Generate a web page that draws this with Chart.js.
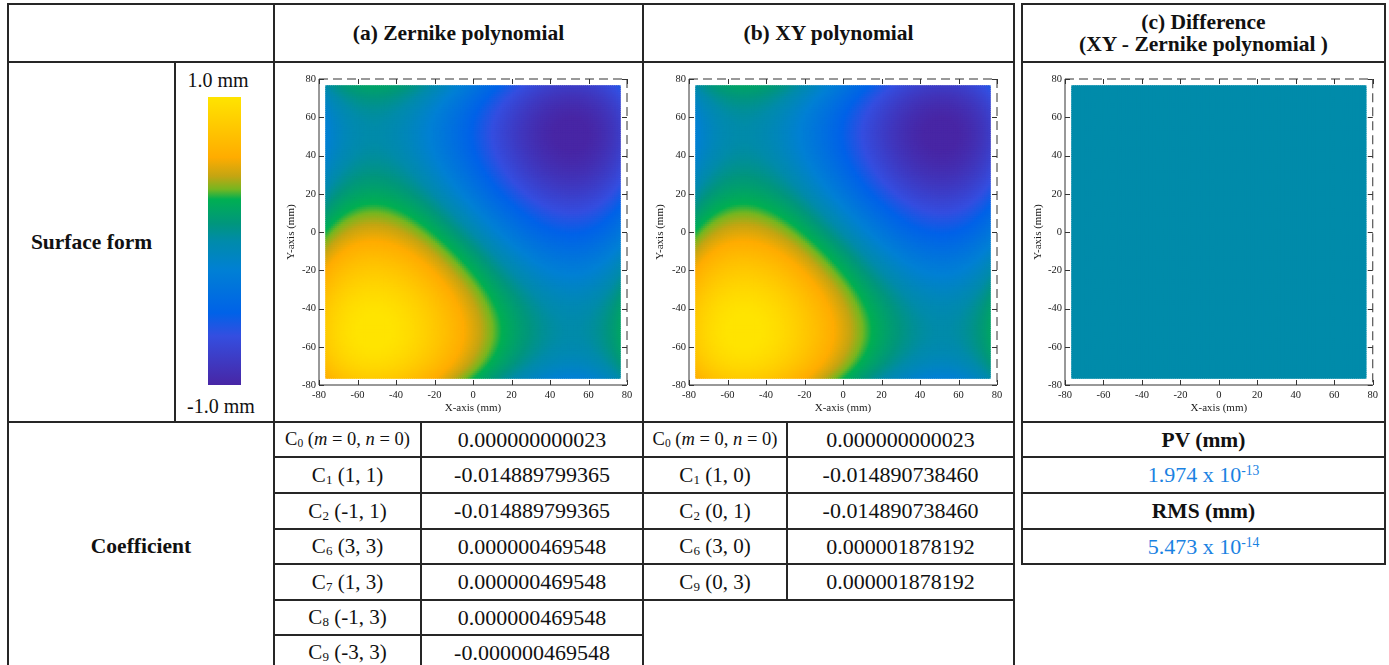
<!DOCTYPE html>
<html>
<head>
<meta charset="utf-8">
<script src="https://cdn.jsdelivr.net/npm/chart.js@4.4.0/dist/chart.umd.min.js"></script>
<style>
  body { margin: 0; background: #fff; }
  #sheet { position: relative; width: 1389px; height: 665px; overflow: hidden;
           font-family: "Liberation Serif", "Times New Roman", serif; color: #111; }
  .ln { position: absolute; background: #262626; }
  .cell { position: absolute; display: flex; align-items: center; justify-content: center;
          text-align: center; white-space: nowrap; }
  .head { font-weight: bold; font-size: 21.5px; line-height: 22px; }
  .val { font-size: 22px; }
  .lab { font-size: 21px; }
  .lab.small { font-size: 18.5px; }
  .unit { font-size: 20px; }
  .blue { color: #1a82e2; font-size: 22px; }
  sub { font-size: 62%; vertical-align: -0.18em; line-height: 0; }
  sup { font-size: 62%; vertical-align: 0.55em; line-height: 0; }
  canvas { position: absolute; }
  #cbar { position: absolute; left: 208px; top: 97px; width: 33px; height: 288px; }
</style>
</head>
<body>
<div id="sheet">
  <div id="cbar"></div>
  <canvas id="zernikeChart" width="362" height="352" style="left:276px;top:66px"></canvas>
  <canvas id="xyChart" width="363" height="352" style="left:645px;top:66px"></canvas>
  <canvas id="diffChart" width="359" height="352" style="left:1023px;top:66px"></canvas>
</div>
<script>
// axis ticks (mm) and sampled aperture
const axisTicks = [-80, -60, -40, -20, 0, 20, 40, 60, 80];
const apertureHalf = 76;
const gridStep = 1;

// Zernike fit: term index, (m, n), coefficient
const zernikeIndex = [0, 1, 2, 6, 7, 8, 9];
const zernikeM = [0, 1, -1, 3, 1, -1, -3];
const zernikeN = [0, 1, 1, 3, 3, 3, 3];
const zernikeCoef = [0.000000000023, -0.014889799365, -0.014889799365,
                     0.000000469548, 0.000000469548, 0.000000469548, -0.000000469548];

// XY polynomial fit: term index, powers of x and y, coefficient
const xyIndex = [0, 1, 2, 6, 9];
const xyPowX = [0, 1, 0, 3, 0];
const xyPowY = [0, 0, 1, 0, 3];
const xyCoef = [0.000000000023, -0.014890738460, -0.014890738460,
                0.000001878192, 0.000001878192];

// residual statistics of the difference map (mm)
const diffPV = 1.974e-13;
const diffRMS = 5.473e-14;

// colour map, value (mm) -> rgb
const cmapValues = [1.0, 0.58, 0.45, 0.36, 0.29, 0.12, 0.0, -0.2, -0.5, -0.66, -1.0];
const cmapColors = [[255, 228, 0], [255, 172, 0], [196, 165, 18], [118, 182, 32], [0, 175, 82],
                    [0, 150, 125], [0, 139, 170], [0, 128, 212], [0, 98, 232], [52, 78, 224], [72, 38, 165]];
const cmapLabels = ['1.0 mm', '-1.0 mm'];

function colorFor(v) {
  v = Math.max(-1, Math.min(1, v));
  for (let i = 0; i < cmapValues.length - 1; i++) {
    const a = cmapValues[i], b = cmapValues[i + 1];
    if (v <= a && v >= b) {
      const t = (a - v) / (a - b);
      const c0 = cmapColors[i], c1 = cmapColors[i + 1];
      const c = c0.map((c, k) => Math.round(c + (c1[k] - c) * t));
      return `rgb(${c[0]},${c[1]},${c[2]})`;
    }
  }
  return 'rgb(0,139,170)';
}

function fact(k) { return k <= 1 ? 1 : k * fact(k - 1); }

function zernike(m, n, x, y) {
  const r = Math.hypot(x, y), th = Math.atan2(y, x), am = Math.abs(m);
  let R = 0;
  for (let s = 0; s <= (n - am) / 2; s++) {
    R += (s % 2 ? -1 : 1) * fact(n - s) /
         (fact(s) * fact((n + am) / 2 - s) * fact((n - am) / 2 - s)) * Math.pow(r, n - 2 * s);
  }
  return m >= 0 ? R * Math.cos(am * th) : R * Math.sin(am * th);
}

const zernikeSurface = (x, y) =>
  zernikeCoef.reduce((s, c, i) => s + c * zernike(zernikeM[i], zernikeN[i], x, y), 0);
const xySurface = (x, y) =>
  xyCoef.reduce((s, c, i) => s + c * Math.pow(x, xyPowX[i]) * Math.pow(y, xyPowY[i]), 0);
const diffSurface = (x, y) => xySurface(x, y) - zernikeSurface(x, y);

function surfacePoints(fn) {
  const pts = [], colors = [];
  for (let y = -apertureHalf; y <= apertureHalf; y += gridStep) {
    for (let x = -apertureHalf; x <= apertureHalf; x += gridStep) {
      pts.push({ x, y });
      colors.push(colorFor(fn(x, y)));
    }
  }
  return { pts, colors };
}

// box frame: solid left/bottom axes, dashed top/right, inward ticks
const framePlugin = {
  id: 'frame',
  afterDatasetsDraw(chart) {
    const { ctx, chartArea: a, scales: { x, y } } = chart;
    ctx.save();
    ctx.strokeStyle = '#333';
    ctx.lineWidth = 1;
    ctx.beginPath();
    ctx.moveTo(a.left, a.top); ctx.lineTo(a.left, a.bottom); ctx.lineTo(a.right, a.bottom);
    ctx.stroke();
    ctx.setLineDash([9, 5]);
    ctx.beginPath();
    ctx.moveTo(a.left, a.top); ctx.lineTo(a.right, a.top); ctx.lineTo(a.right, a.bottom);
    ctx.stroke();
    ctx.setLineDash([]);
    ctx.beginPath();
    axisTicks.forEach(v => {
      const px = Math.round(x.getPixelForValue(v)) + 0.5;
      const py = Math.round(y.getPixelForValue(v)) + 0.5;
      ctx.moveTo(px, a.bottom); ctx.lineTo(px, a.bottom - 5);
      ctx.moveTo(px, a.top); ctx.lineTo(px, a.top + 5);
      ctx.moveTo(a.left, py); ctx.lineTo(a.left + 5, py);
      ctx.moveTo(a.right, py); ctx.lineTo(a.right - 5, py);
    });
    ctx.stroke();
    ctx.restore();
  }
};

Chart.defaults.font.family = '"Liberation Serif", "Times New Roman", serif';
Chart.defaults.color = '#1a1a1a';

function axis(title, isX, fitSize) {
  return {
    type: 'linear', min: -80, max: 80,
    afterBuildTicks: s => { s.ticks = axisTicks.map(v => ({ value: v })); },
    grid: { display: false, drawTicks: false }, border: { display: false },
    ticks: { autoSkip: false, maxRotation: 0, padding: isX ? 4 : 3, font: { size: 10.5 } },
    title: { display: true, text: title, font: { size: 11 },
             padding: isX ? { top: 0, bottom: 3 } : { top: 9, bottom: 0 } },
    afterFit: s => { if (isX) s.height = fitSize; else s.width = fitSize; }
  };
}

function makeSurfaceChart(id, fn, yWidth, rightPad) {
  const { pts, colors } = surfacePoints(fn);
  return new Chart(document.getElementById(id), {
    type: 'scatter',
    data: { datasets: [{ data: pts, backgroundColor: colors, borderWidth: 0, pointStyle: 'rect',
      pointRadius: c => {
        const sx = c.chart.scales.x, sy = c.chart.scales.y;
        const w = Math.max(Math.abs(sx.getPixelForValue(gridStep) - sx.getPixelForValue(0)),
                           Math.abs(sy.getPixelForValue(gridStep) - sy.getPixelForValue(0)));
        return (w / 2 + 0.45) / Math.SQRT1_2;
      } }] },
    options: {
      responsive: false, animation: false, parsing: false, events: [],
      layout: { padding: { top: 13, right: rightPad, left: 0, bottom: 0 } },
      plugins: { legend: { display: false }, tooltip: { enabled: false } },
      scales: { x: axis('X-axis (mm)', true, 33), y: axis('Y-axis (mm)', false, yWidth) }
    },
    plugins: [framePlugin]
  });
}

makeSurfaceChart('zernikeChart', zernikeSurface, 43, 11);
makeSurfaceChart('xyChart', xySurface, 44, 11);
makeSurfaceChart('diffChart', diffSurface, 42, 8);

// colour bar
const cbar = document.getElementById('cbar');
cbar.style.background = 'linear-gradient(to bottom,' + cmapValues.map((v, i) =>
  `rgb(${cmapColors[i].join(',')}) ${((1 - v) / 2 * 100).toFixed(1)}%`).join(',') + ')';

// table frame and text
const sheet = document.getElementById('sheet');
function add(cls, x, y, w, h, html) {
  const d = document.createElement('div');
  d.className = cls;
  Object.assign(d.style, { left: x + 'px', top: y + 'px', width: w + 'px', height: h + 'px' });
  if (html !== undefined) d.innerHTML = '<span>' + html + '</span>';
  sheet.appendChild(d);
}
const hl = (x1, x2, y) => add('ln', x1 - 1, y - 1, x2 - x1 + 2, 2);
const vl = (x, y1, y2) => add('ln', x - 1, y1 - 1, 2, y2 - y1 + 2);
const cell = (x1, y1, x2, y2, html, cls) => add('cell ' + cls, x1, y1, x2 - x1, y2 - y1, html);

const rowTops = [422, 457, 493, 529, 564, 600, 635, 670];

[4, 62, 422].forEach(y => { hl(8, 1014, y); hl(1022, 1385, y); });
rowTops.slice(1, 5).forEach(y => { hl(274, 1014, y); hl(1022, 1385, y); });
hl(274, 1014, 600);
hl(274, 643, 635);
vl(8, 4, 670); vl(175, 62, 422); vl(274, 4, 670); vl(421, 422, 670);
vl(643, 4, 670); vl(787, 422, 600); vl(1014, 4, 670);
vl(1022, 4, 564); vl(1385, 4, 564);

cell(274, 4, 643, 62, '(a) Zernike polynomial', 'head');
cell(643, 4, 1014, 62, '(b) XY polynomial', 'head');
cell(1022, 4, 1385, 62, '(c) Difference<br>(XY - Zernike polynomial )', 'head');
cell(8, 62, 175, 422, 'Surface form', 'head');
cell(168, 66, 268, 94, cmapLabels[0], 'unit');
cell(171, 392, 271, 420, cmapLabels[1], 'unit');
cell(8, 422, 274, 670, 'Coefficient', 'head');

const c0Label = 'C<sub>0</sub> (<i>m</i> = 0, <i>n</i> = 0)';
zernikeIndex.forEach((k, i) => {
  const lab = i === 0 ? c0Label : `C<sub>${k}</sub> (${zernikeM[i]}, ${zernikeN[i]})`;
  cell(274, rowTops[i], 421, rowTops[i + 1], lab, i === 0 ? 'lab small' : 'lab');
  cell(421, rowTops[i], 643, rowTops[i + 1], zernikeCoef[i].toFixed(12), 'val');
});
xyIndex.forEach((k, i) => {
  const lab = i === 0 ? c0Label : `C<sub>${k}</sub> (${xyPowX[i]}, ${xyPowY[i]})`;
  cell(643, rowTops[i], 787, rowTops[i + 1], lab, i === 0 ? 'lab small' : 'lab');
  cell(787, rowTops[i], 1014, rowTops[i + 1], xyCoef[i].toFixed(12), 'val');
});

function sci(v) {
  const e = Math.floor(Math.log10(v));
  return `${(v / Math.pow(10, e)).toFixed(3)} x 10<sup>${e}</sup>`;
}
cell(1022, rowTops[0], 1385, rowTops[1], 'PV (mm)', 'head');
cell(1022, rowTops[1], 1385, rowTops[2], sci(diffPV), 'blue');
cell(1022, rowTops[2], 1385, rowTops[3], 'RMS (mm)', 'head');
cell(1022, rowTops[3], 1385, rowTops[4], sci(diffRMS), 'blue');
</script>
</body>
</html>
